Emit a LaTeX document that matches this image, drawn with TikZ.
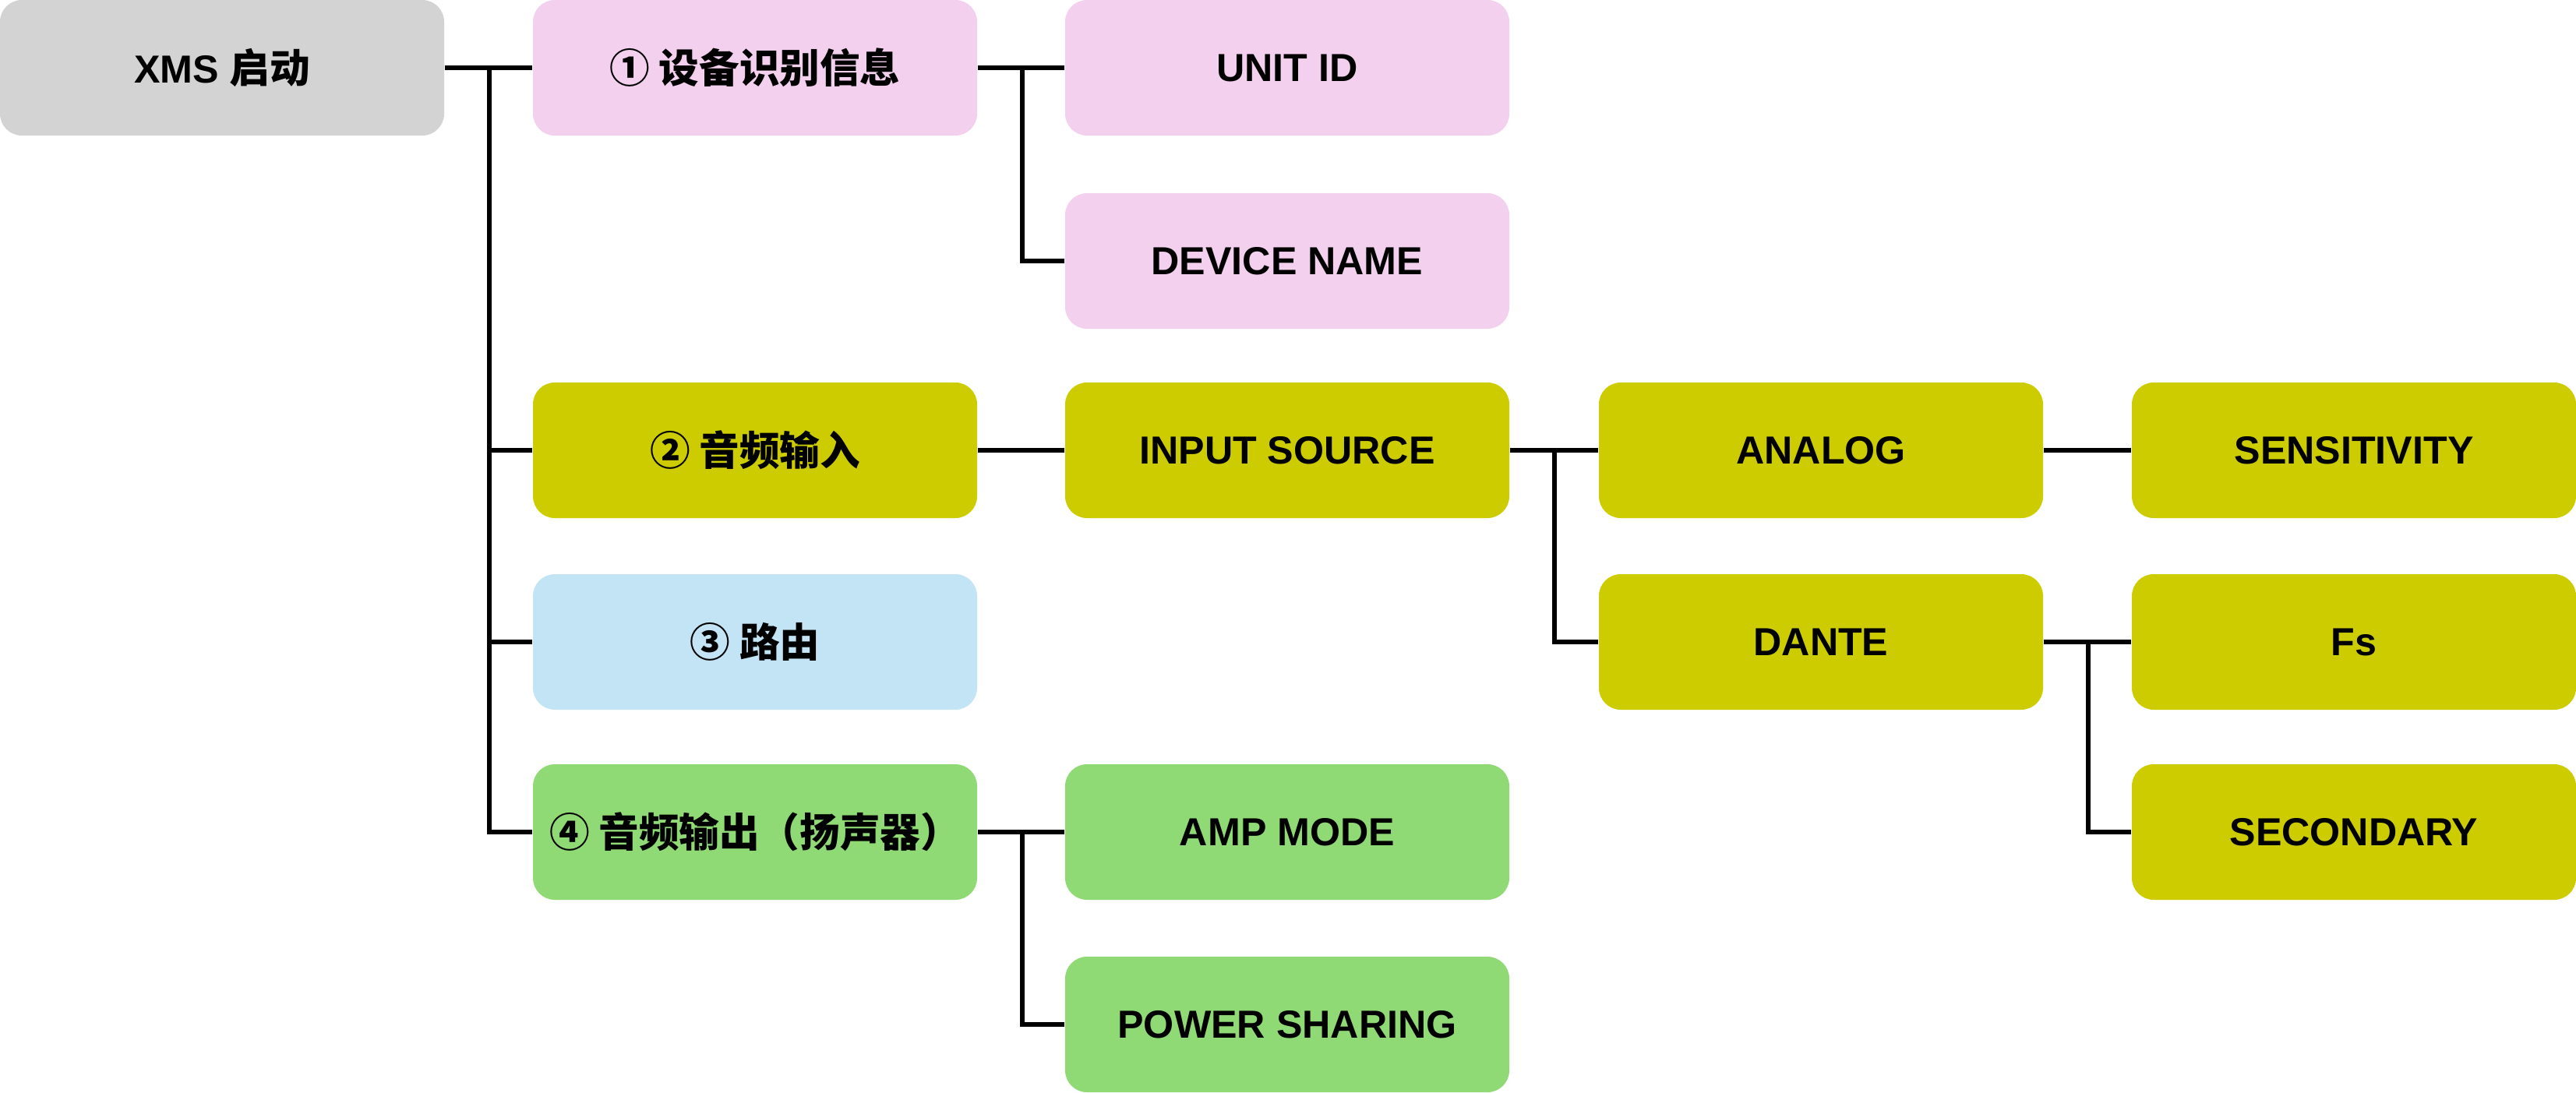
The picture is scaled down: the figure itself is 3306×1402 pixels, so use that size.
\documentclass[tikz,border=0pt]{standalone}
\usepackage{fontspec}
\setmainfont{Liberation Sans}
\newfontfamily\cjk{Noto Sans CJK SC}
\newcommand{\cjkt}{\cjk\bfseries\fontsize{12.9}{15}\selectfont}
\definecolor{cgray}{RGB}{211,211,211}
\definecolor{cpink}{RGB}{242,208,238}
\definecolor{colive}{RGB}{204,204,0}
\definecolor{cblue}{RGB}{194,228,244}
\definecolor{cgreen}{RGB}{144,218,118}
\begin{document}
\begin{tikzpicture}[x=0.25pt,y=-0.25pt,
  box/.style={rounded corners=7pt, minimum width=142.5pt, minimum height=43.5pt,
    inner sep=0pt, font=\fontsize{12.55}{15}\selectfont\bfseries, text=black},
  conn/.style={line width=1.4pt, draw=black}]
\useasboundingbox (0,0) rectangle (3306,1402);
% column 1
\node[box, fill=cgray] (xms) at (285,87) {XMS {\cjkt 启动}};
% column 2
\node[box, fill=cpink] (c1) at (969,87) {\cjkt ① 设备识别信息};
\node[box, fill=colive] (c2) at (969,578) {\cjkt ② 音频输入};
\node[box, fill=cblue] (c3) at (969,824) {\cjkt ③ 路由};
\node[box, fill=cgreen] (c4) at (969,1068) {\cjkt ④ 音频输出（扬声器）};
% column 3
\node[box, fill=cpink] (uid) at (1652,87) {UNIT ID};
\node[box, fill=cpink] (dname) at (1652,335) {DEVICE NAME};
\node[box, fill=colive] (isrc) at (1652,578) {INPUT SOURCE};
\node[box, fill=cgreen] (amp) at (1652,1068) {AMP MODE};
\node[box, fill=cgreen] (pwr) at (1652,1315) {POWER SHARING};
% column 4
\node[box, fill=colive] (ana) at (2337,578) {ANALOG};
\node[box, fill=colive] (dante) at (2337,824) {DANTE};
% column 5
\node[box, fill=colive] (sens) at (3021,578) {SENSITIVITY};
\node[box, fill=colive] (fs) at (3021,824) {Fs};
\node[box, fill=colive] (sec) at (3021,1068) {SECONDARY};
% connectors
\draw[conn] (xms.east) -- (c1.west);
\draw[conn] (xms.east) -- ++(57,0) |- (c2.west);
\draw[conn] (xms.east) -- ++(57,0) |- (c3.west);
\draw[conn] (xms.east) -- ++(57,0) |- (c4.west);
\draw[conn] (c1.east) -- (uid.west);
\draw[conn] (c1.east) -- ++(57,0) |- (dname.west);
\draw[conn] (c2.east) -- (isrc.west);
\draw[conn] (c4.east) -- (amp.west);
\draw[conn] (c4.east) -- ++(57,0) |- (pwr.west);
\draw[conn] (isrc.east) -- (ana.west);
\draw[conn] (isrc.east) -- ++(57,0) |- (dante.west);
\draw[conn] (ana.east) -- (sens.west);
\draw[conn] (dante.east) -- (fs.west);
\draw[conn] (dante.east) -- ++(57,0) |- (sec.west);
\end{tikzpicture}
\end{document}
